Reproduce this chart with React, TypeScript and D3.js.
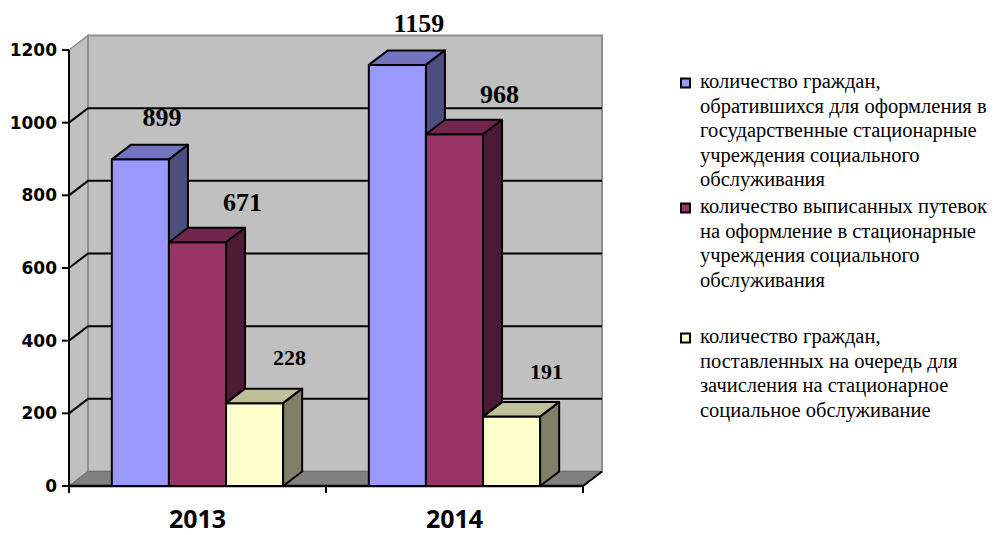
import * as d3 from "d3";

const categories = ["2013", "2014"];
const appliedValues = [899, 1159];
const voucherValues = [671, 968];
const queueValues = [228, 191];
const yTicks = [0, 200, 400, 600, 800, 1000, 1200];

const legendLines = [
  [
    "количество граждан,",
    "обратившихся для оформления в",
    "государственные стационарные",
    "учреждения социального",
    "обслуживания",
  ],
  [
    "количество выписанных путевок",
    "на оформление в стационарные",
    "учреждения социального",
    "обслуживания",
  ],
  [
    "количество граждан,",
    "поставленных на очередь для",
    "зачисления на стационарное",
    "социальное обслуживание",
  ],
];

const W = 1004;
const H = 535;
const plot = { left: 69, right: 583, top: 50, bottom: 486 };
const dx = 19;
const dy = -14.5;
const serif = "'Liberation Serif', 'Times New Roman', serif";

// front / top / side shades, like Excel's 3D columns
const styles = [
  { front: "#9999FF", top: "#7373BF", side: "#4D4D80", label: 26, nx: 21.5, ny: -42 },
  { front: "#993366", top: "#73264D", side: "#4D1A33", label: 26, nx: 45, ny: -40.5 },
  { front: "#FFFFCC", top: "#BFBF99", side: "#808066", label: 22, nx: 35, ny: -45.5 },
];
const legendTop = [83, 208, 338];
const lineH = 24.6;

export default function App() {
  const seriesValues = [appliedValues, voucherValues, queueValues];
  const x = d3.scaleBand<string>().domain(categories).range([plot.left, plot.right]);
  const bw = x.bandwidth();
  const x1 = d3
    .scaleBand<number>()
    .domain(seriesValues.map((_, i) => i))
    .range([bw / 6, (bw * 5) / 6]);
  const y = d3.scaleLinear().domain([0, 1200]).range([plot.bottom, plot.top]);
  const y0 = y(0);
  const pts = (p: [number, number][]) => p.map((d) => d.join(",")).join(" ");

  const backL = plot.left + dx;
  const backR = plot.right + dx;

  return (
    <svg
      width={W}
      height={H}
      style={{ position: "absolute", left: 0, top: 0, background: "#fff" }}
    >
      {/* walls */}
      <polygon
        points={pts([
          [plot.left, y(1200)],
          [backL, y(1200) + dy],
          [backL, y0 + dy],
          [plot.left, y0],
        ])}
        fill="#C0C0C0"
        stroke="#8A8A8A"
        strokeWidth={1.5}
      />
      <rect
        x={backL}
        y={y(1200) + dy}
        width={backR - backL}
        height={y0 - y(1200)}
        fill="#C0C0C0"
        stroke="#8F8F8F"
        strokeWidth={2}
      />
      {yTicks
        .filter((t) => t > 0 && t < 1200)
        .map((t) => (
          <polyline
            key={t}
            points={pts([
              [plot.left, y(t)],
              [backL, y(t) + dy],
              [backR, y(t) + dy],
            ])}
            fill="none"
            stroke="#000"
            strokeWidth={2}
          />
        ))}
      <polygon
        points={pts([
          [plot.left, y0],
          [backL, y0 + dy],
          [backR, y0 + dy],
          [plot.right, y0],
        ])}
        fill="#808080"
        stroke="#6E6E6E"
        strokeWidth={1}
      />
      <line x1={plot.right} y1={y0} x2={backR} y2={y0 + dy} stroke="#000" strokeWidth={2} />

      {/* axes */}
      <line x1={plot.left} y1={y(1200)} x2={plot.left} y2={y0 + 7} stroke="#000" strokeWidth={2} />
      <line x1={plot.left} y1={y0} x2={plot.right} y2={y0} stroke="#000" strokeWidth={2.5} />
      {yTicks.map((t) => (
        <g key={t}>
          <line x1={plot.left - 7} y1={y(t)} x2={plot.left} y2={y(t)} stroke="#000" strokeWidth={2} />
          <text
            x={57}
            y={y(t)}
            dy="0.36em"
            textAnchor="end"
            fontFamily="'DejaVu Sans', sans-serif"
            fontWeight="bold"
            fontSize={17}
          >
            {t}
          </text>
        </g>
      ))}
      {[plot.left, ...categories.map((c) => (x(c) as number) + bw)].map((px) => (
        <line key={px} x1={px} y1={y0} x2={px} y2={y0 + 7} stroke="#000" strokeWidth={2} />
      ))}
      {categories.map((c) => (
        <text
          key={c}
          x={(x(c) as number) + bw / 2}
          y={528}
          textAnchor="middle"
          fontFamily="'Open Sans', sans-serif"
          fontWeight="bold"
          fontSize={25}
        >
          {c}
        </text>
      ))}

      {/* bars */}
      {categories.map((c, ci) =>
        seriesValues.map((vals, si) => {
          const s = styles[si];
          const x0 = (x(c) as number) + (x1(si) as number);
          const w = x1.bandwidth();
          const yt = y(vals[ci]);
          return (
            <g key={c + si} stroke="#000" strokeWidth={2} strokeLinejoin="round">
              <rect x={x0} y={yt} width={w} height={y0 - yt} fill={s.front} />
              <polygon
                points={pts([
                  [x0, yt],
                  [x0 + dx, yt + dy],
                  [x0 + w + dx, yt + dy],
                  [x0 + w, yt],
                ])}
                fill={s.top}
              />
              <polygon
                points={pts([
                  [x0 + w, yt],
                  [x0 + w + dx, yt + dy],
                  [x0 + w + dx, y0 + dy],
                  [x0 + w, y0],
                ])}
                fill={s.side}
              />
            </g>
          );
        })
      )}

      {/* value labels */}
      {categories.map((c, ci) =>
        seriesValues.map((vals, si) => {
          const s = styles[si];
          const x0 = (x(c) as number) + (x1(si) as number);
          return (
            <text
              key={"l" + c + si}
              x={x0 + x1.bandwidth() / 2 + s.nx}
              y={y(vals[ci]) + s.ny + s.label * 0.34}
              textAnchor="middle"
              fontFamily={serif}
              fontWeight="bold"
              fontSize={s.label}
            >
              {vals[ci]}
            </text>
          );
        })
      )}

      {/* legend */}
      {legendLines.map((lines, i) => (
        <g key={i}>
          <rect
            x={681}
            y={legendTop[i] - 4.5}
            width={9}
            height={9}
            fill={styles[i].front}
            stroke="#000"
            strokeWidth={2}
          />
          {lines.map((ln, li) => (
            <text
              key={li}
              x={700}
              y={legendTop[i] + li * lineH + 5}
              fontFamily={serif}
              fontSize={20.5}
            >
              {ln}
            </text>
          ))}
        </g>
      ))}
    </svg>
  );
}
